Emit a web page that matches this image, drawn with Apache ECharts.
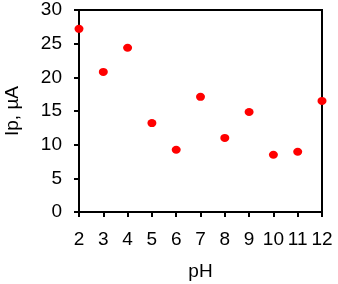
<!DOCTYPE html>
<html><head><meta charset="utf-8">
<script src="https://cdn.jsdelivr.net/npm/echarts@6/dist/echarts.min.js"></script>
<style>html,body{margin:0;padding:0;background:#fff}#c{width:338px;height:284px}</style>
</head><body><div id="c"></div>
<script>
const phValues = [2, 3, 4, 5, 6, 7, 8, 9, 10, 11, 12];
const ipValues = [27.2, 20.8, 24.4, 13.2, 9.25, 17.1, 11.0, 14.85, 8.5, 8.95, 16.5];
const xTicks = { min: 2, max: 12, interval: 1 };
const yTicks = { min: 0, max: 30, interval: 5 };

const chart = echarts.init(document.getElementById('c'), null, { renderer: 'canvas' });
const font = 'Liberation Sans, Arial, sans-serif';
chart.setOption({
  animation: false,
  backgroundColor: '#fff',
  grid: { left: 79, right: 16, top: 10, bottom: 72, containLabel: false, outerBoundsMode: 'none', show: true, borderColor: '#000', borderWidth: 2, backgroundColor: 'transparent' },
  xAxis: {
    type: 'value', min: xTicks.min, max: xTicks.max, interval: xTicks.interval,
    name: 'pH', nameLocation: 'middle', nameGap: 50,
    nameTextStyle: { color: '#000', fontSize: 19, fontFamily: font },
    axisLine: { lineStyle: { color: '#000', width: 2 } },
    axisTick: { show: true, length: 5, lineStyle: { color: '#000', width: 2 } },
    axisLabel: { color: '#000', fontSize: 19, fontFamily: font, margin: 18, hideOverlap: false, showMinLabel: true, showMaxLabel: true },
    splitLine: { show: false }
  },
  yAxis: {
    type: 'value', min: yTicks.min, max: yTicks.max, interval: yTicks.interval,
    name: 'Ip, µA', nameLocation: 'middle', nameGap: 57, nameRotate: 90,
    nameTextStyle: { color: '#000', fontSize: 19, fontFamily: font },
    axisLine: { show: true, lineStyle: { color: '#000', width: 2 } },
    axisTick: { show: true, length: 5, lineStyle: { color: '#000', width: 2 } },
    axisLabel: { color: '#000', fontSize: 19, fontFamily: font, margin: 17 },
    splitLine: { show: false }
  },
  series: [{
    type: 'scatter',
    data: phValues.map((x, i) => [x, ipValues[i]]),
    symbol: 'circle', symbolSize: [9, 8],
    itemStyle: { color: '#ff0000', opacity: 1 },
    clip: false
  }]
});
</script></body></html>
